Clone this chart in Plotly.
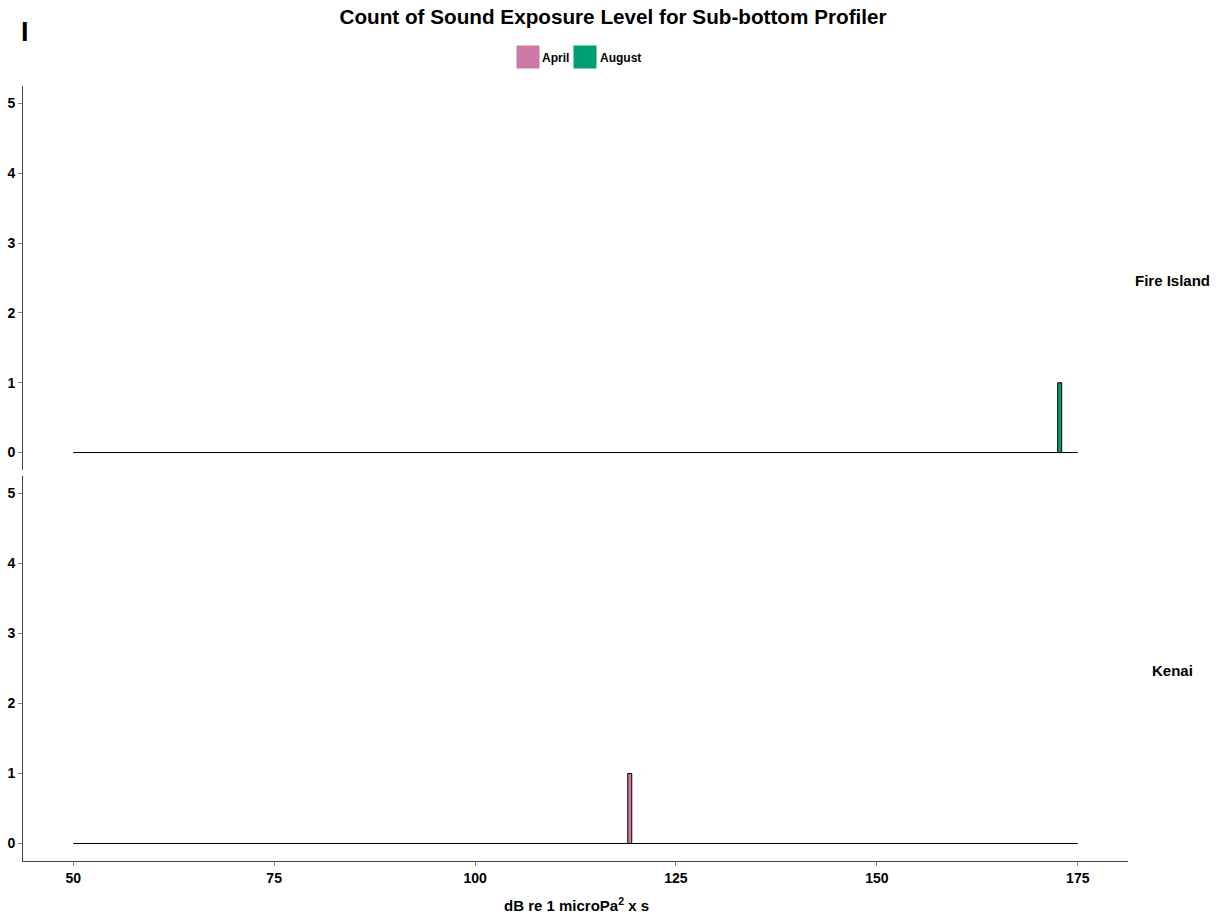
import plotly.graph_objects as go

# ---- data ----
sites = ["Fire Island", "Kenai"]
months = ["April", "August"]
month_colors = ["#CC79A7", "#009E73"]
# non-zero histogram bins (bin centres, width 0.5 dB)
bar_site = ["Fire Island", "Kenai"]
bar_month = ["August", "April"]
bar_center = [172.75, 119.25]
bar_count = [1, 1]
bin_width = 0.5
hist_range = [50, 175]
x_ticks = [50, 75, 100, 125, 150, 175]
y_ticks = [0, 1, 2, 3, 4, 5]

FONT = "Liberation Sans"
W, H = 1225, 919
ML, MR, MT, MB = 23, 97, 86, 58
PW = W - ML - MR
PH = H - MT - MB

def px_x(px):
    return (px - ML) / PW

def px_y(py):
    return (H - MB - py) / PH

fig = go.Figure()
axis_for_site = {"Fire Island": ("x2", "y"), "Kenai": ("x", "y2")}

for s in sites:
    xa, ya = axis_for_site[s]
    fig.add_trace(go.Scatter(x=hist_range, y=[0, 0], mode="lines",
                             line=dict(color="black", width=1),
                             xaxis=xa, yaxis=ya, showlegend=False, hoverinfo="skip"))

for s, m, c, n in zip(bar_site, bar_month, bar_center, bar_count):
    xa, ya = axis_for_site[s]
    fig.add_trace(go.Bar(x=[c], y=[n], width=bin_width,
                         marker=dict(color=month_colors[months.index(m)],
                                     line=dict(color="black", width=1)),
                         xaxis=xa, yaxis=ya, showlegend=False, name=m))

tickfont = dict(family=FONT, size=14, color="black", weight="bold")
xr = [hist_range[0] - 0.05 * (hist_range[1] - hist_range[0]),
      hist_range[1] + 0.05 * (hist_range[1] - hist_range[0])]
yr = [-0.25, 5.25]
yaxis_common = dict(range=yr, tickvals=y_ticks, showgrid=False, zeroline=False,
                    showline=True, linecolor="#444", linewidth=1,
                    ticks="outside", ticklen=4, tickcolor="#888",
                    tickfont=tickfont, automargin=False)

fig.update_layout(
    template="none",
    width=W, height=H,
    margin=dict(l=ML, r=MR, t=MT, b=MB, autoexpand=False),
    plot_bgcolor="white", paper_bgcolor="white",
    barmode="overlay",
    showlegend=False,
    title=dict(text="Count of Sound Exposure Level for Sub-bottom Profiler",
               x=px_x(576), xanchor="center", y=1 - 17 / H, yanchor="middle",
               font=dict(family=FONT, size=20.7, color="black", weight="bold")),
    xaxis=dict(domain=[0, 1], range=xr, anchor="y2", tickvals=x_ticks,
               showgrid=False, zeroline=False, showline=True, linecolor="#444",
               linewidth=1, ticks="outside", ticklen=4, tickcolor="#888",
               tickfont=tickfont, automargin=False),
    xaxis2=dict(domain=[0, 1], range=xr, anchor="y", showgrid=False,
                zeroline=False, showline=False, showticklabels=False, ticks="",
                automargin=False),
    yaxis=dict(domain=[px_y(470), 1], anchor="x2", **yaxis_common),
    yaxis2=dict(domain=[0, px_y(476)], anchor="x", **yaxis_common),
)

# strip labels
for s, py in zip(sites, [280, 670]):
    fig.add_annotation(text=s, xref="paper", yref="paper", x=px_x(1172), y=px_y(py),
                       xanchor="center", yanchor="middle", showarrow=False,
                       font=dict(family=FONT, size=15, color="black", weight="bold"))

# x axis title
fig.add_annotation(text="dB re 1 microPa<sup>2</sup> x s", xref="paper", yref="paper",
                   x=px_x(576), y=px_y(904), xanchor="center", yanchor="middle",
                   showarrow=False,
                   font=dict(family=FONT, size=15, color="black", weight="bold"))

# panel tag
fig.add_annotation(text="I", xref="paper", yref="paper", x=px_x(19), y=px_y(32),
                   xanchor="left", yanchor="middle", showarrow=False,
                   font=dict(family=FONT, size=27, color="black", weight="bold"))

# legend (manual, large keys)
key_left = [516, 573]
text_left = [540, 598]
for m, col, kl, tl in zip(months, month_colors, key_left, text_left):
    fig.add_shape(type="rect", xref="paper", yref="paper",
                  x0=px_x(kl), x1=px_x(kl + 24), y0=px_y(69), y1=px_y(45),
                  fillcolor=col, line=dict(color="white", width=1))
    fig.add_annotation(text=m, xref="paper", yref="paper", x=px_x(tl), y=px_y(58),
                       xanchor="left", yanchor="middle", showarrow=False,
                       font=dict(family=FONT, size=12, color="black", weight="bold"))

fig.write_html("out.html", config={"displayModeBar": False},
               post_script="document.body.style.margin='0px';document.body.style.overflow='hidden';")
